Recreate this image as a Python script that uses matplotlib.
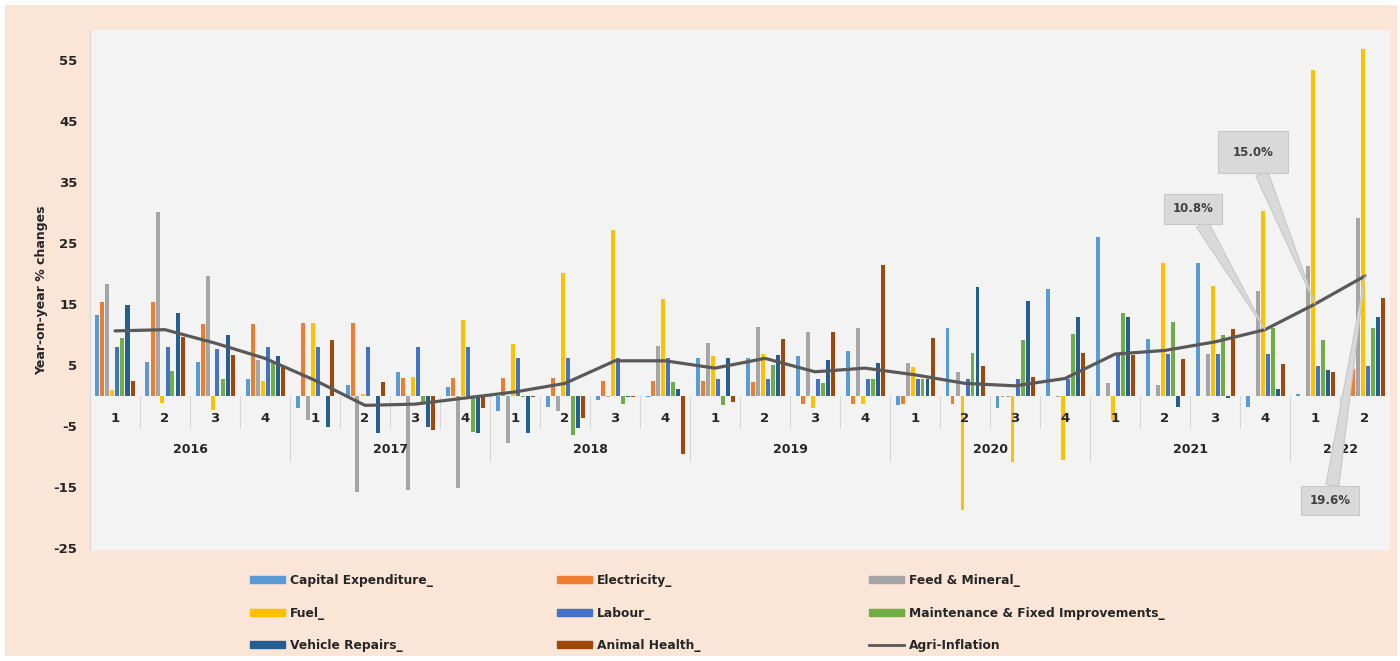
import matplotlib
matplotlib.use("Agg")
import matplotlib.pyplot as plt
from matplotlib.patches import Rectangle
from matplotlib.lines import Line2D
import numpy as np

# ---- data: year-on-year % change by quarter ----
years = ["2016", "2017", "2018", "2019", "2020", "2021", "2022"]
quarters_per_year = [4, 4, 4, 4, 4, 4, 2]

capital_expenditure = [13.2, 5.5, 5.5, 2.7, -2.1, 1.7, 3.9, 1.4, -2.6, -1.8, -0.8, -0.3, 6.1,
                       6.1, 6.5, 7.3, -1.6, 11.0, -2.1, 17.4, 26.0, 9.3, 21.8, -1.8, 0.3, 0.0]
electricity = [15.3, 15.3, 11.8, 11.8, 11.9, 11.9, 2.8, 2.8, 2.8, 2.8, 2.4, 2.4, 2.4,
               2.3, -1.3, -1.3, -1.3, -1.3, -0.3, 0.0, 0.0, 0.0, 0.0, 0.0, 0.0, 4.3]
feed_mineral = [18.3, 30.1, 19.6, 5.8, -4.0, -15.8, -15.5, -15.2, -7.8, -2.5, -0.3, 8.1, 8.6,
                11.3, 10.5, 11.1, 5.3, 3.9, -0.3, -0.3, 2.0, 1.7, 6.8, 17.1, 21.3, 29.1]
fuel = [0.9, -1.2, -2.4, 2.4, 11.9, 0.3, 3.1, 12.4, 8.4, 20.1, 27.1, 15.8, 6.5,
        6.8, -2.1, -1.3, 4.7, -18.8, -10.8, -10.6, -4.0, 21.7, 17.9, 30.3, 53.3, 56.8]
labour = [8.0, 8.0, 7.6, 8.0, 8.0, 8.0, 8.0, 8.0, 6.1, 6.1, 6.1, 6.1, 2.7,
          2.7, 2.7, 2.7, 2.7, 2.7, 2.7, 2.7, 6.6, 6.8, 6.8, 6.8, 4.9, 4.9]
maintenance = [9.5, 4.0, 2.7, 5.4, 0.0, 0.0, -1.0, -5.9, -0.3, -6.5, -1.3, 2.3, -1.6,
               5.0, 2.1, 2.7, 2.7, 6.9, 9.1, 10.1, 13.5, 12.1, 10.0, 11.1, 9.1, 11.0]
vehicle_repairs = [14.8, 13.6, 10.0, 6.5, -5.1, -6.2, -5.1, -6.2, -6.2, -5.3, -0.3, 1.1, 6.1,
                   6.6, 5.9, 5.3, 2.7, 17.8, 15.5, 12.8, 12.8, -1.8, -0.4, 1.1, 4.2, 12.9]
animal_health = [2.4, 9.6, 6.6, 4.7, 9.1, 2.3, -5.7, -2.1, -0.3, -3.7, -0.3, -9.6, -1.1,
                 9.2, 10.5, 21.4, 9.4, 4.8, 3.1, 6.9, 6.6, 6.0, 10.9, 5.2, 3.8, 16.0]
agri_inflation = [10.6, 10.8, 8.6, 6.1, 2.5, -1.6, -1.4, -0.4, 0.6, 2.0, 5.7, 5.7, 4.5,
                  6.1, 3.9, 4.5, 3.4, 2.0, 1.6, 2.8, 6.8, 7.4, 8.8, 10.8, 15.0, 19.6]

series_names = ["Capital Expenditure_", "Electricity_", "Feed & Mineral_", "Fuel_", "Labour_",
                "Maintenance & Fixed Improvements_", "Vehicle Repairs_", "Animal Health_"]
series_values = [capital_expenditure, electricity, feed_mineral, fuel, labour,
                 maintenance, vehicle_repairs, animal_health]
series_colors = ["#5B9BD5", "#ED7D31", "#A5A5A5", "#FFC000", "#4472C4",
                 "#70AD47", "#255E91", "#9E480E"]
line_color = "#595959"

# callouts on the last three inflation points: (index, text, box centre, box padding)
callouts = [(23, "10.8%", (21.56, 30.6), 0.7),
            (24, "15.0%", (22.76, 39.9), 1.25),
            (25, "19.6%", (24.3, -17.2), 0.7)]

plt.rcParams["font.family"] = ["DejaVu Sans"]
plt.rcParams["font.weight"] = "bold"
plt.rcParams["axes.unicode_minus"] = False
text_color = "#262626"

fig = plt.figure(figsize=(14, 6.61), dpi=100, facecolor="white")
fig.patches.append(Rectangle((5 / 1400, 5 / 661), 1 - 8 / 1400, 1 - 10 / 661,
                             transform=fig.transFigure, facecolor="#FBE5D6",
                             edgecolor="none", zorder=-10))

ax = fig.add_axes([90 / 1400, 1 - 550 / 661, 1300 / 1400, 520 / 661])
ax.set_facecolor("#F3F3F3")

n = len(agri_inflation)
x = np.arange(n)
slot = 0.1
bar_w = 0.08
for j, (name, vals, col) in enumerate(zip(series_names, series_values, series_colors)):
    ax.bar(x + (j - 3.5) * slot, vals, width=bar_w, color=col, label=name, zorder=3)

ax.plot(x, agri_inflation, color=line_color, lw=2.3, zorder=5, label="Agri-Inflation",
        solid_capstyle="round")

ax.set_xlim(-0.5, n - 0.5)
ax.set_ylim(-25.3, 59.9)
ax.set_yticks(np.arange(-25, 56, 10))
ax.tick_params(axis="y", length=0, pad=9, labelsize=9.5, labelcolor=text_color)
ax.set_xticks([])
for s in ax.spines.values():
    s.set_visible(False)

ax.set_ylabel("Year-on-year % changes", fontsize=9, fontweight="bold", color=text_color,
              labelpad=4)

# two-level category axis drawn along the zero line
sep_color = "#D6D6D6"
start = 0
ax.axvline(-0.5, ymin=0, ymax=1, color=sep_color, lw=0.8, zorder=1)
for yr, nq in zip(years, quarters_per_year):
    for q in range(nq):
        xi = start + q
        ax.text(xi, -3.7, str(q + 1), ha="center", va="center", fontsize=9.5,
                color=text_color, zorder=4)
        if q < nq - 1:
            ax.plot([xi + 0.5, xi + 0.5], [0, -5.3], color=sep_color, lw=0.8, zorder=1)
    ax.text(start + (nq - 1) / 2, -8.9, yr, ha="center", va="center", fontsize=9,
            color=text_color, zorder=4)
    end = start + nq - 0.5
    if end < n - 0.5:
        ax.plot([end, end], [0, -10.7], color=sep_color, lw=0.8, zorder=1)
    start += nq

# value callouts
for idx, txt, pos, pad in callouts:
    ax.annotate(txt, xy=(x[idx], agri_inflation[idx]), xytext=pos, textcoords="data",
                ha="center", va="center", fontsize=8.5, color="#404040", zorder=8,
                bbox=dict(boxstyle=f"square,pad={pad}", fc="#D9D9D9", ec="#C8C8C8", lw=0.8),
                arrowprops=dict(arrowstyle="wedge,tail_width=1.1,shrink_factor=0.5",
                                fc="#D9D9D9", ec="#C8C8C8", lw=0.8,
                                shrinkA=0, shrinkB=0))

# legend: three columns placed explicitly
handles = [Rectangle((0, 0), 1, 1, color=c) for c in series_colors]
handles.append(Line2D([0], [0], color=line_color, lw=2))
labels = series_names + ["Agri-Inflation"]
columns = [[0, 3, 6], [1, 4, 7], [2, 5, 8]]
col_x = [250, 557, 869]
for cx, idxs in zip(col_x, columns):
    leg = fig.legend([handles[i] for i in idxs], [labels[i] for i in idxs],
                     loc="upper left", bbox_to_anchor=(cx / 1400, 1 - 574 / 661),
                     frameon=False, fontsize=8.8, handlelength=2.85, handleheight=0.5,
                     handletextpad=0.4, labelspacing=1.6, borderpad=0, borderaxespad=0)
    for t in leg.get_texts():
        t.set_color(text_color)

fig.savefig("out.png", dpi=100, facecolor=fig.get_facecolor())
